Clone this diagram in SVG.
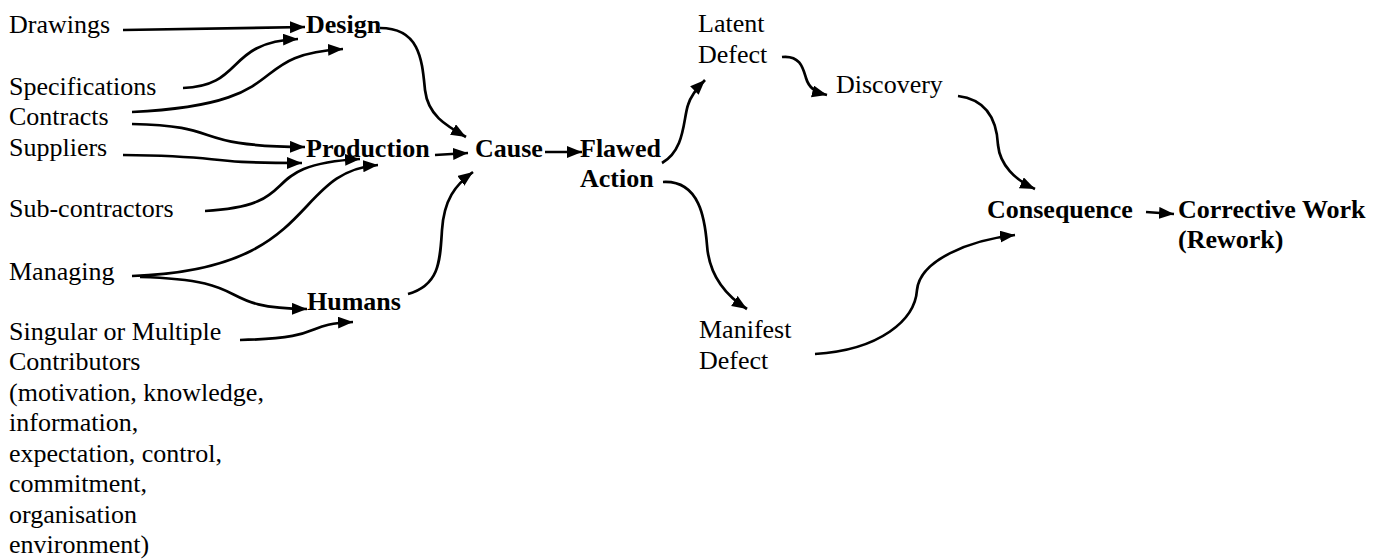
<svg xmlns="http://www.w3.org/2000/svg" width="1385" height="559" viewBox="0 0 1385 559" font-family="Liberation Serif" font-size="26">
<style>
text{font-family:'Liberation Serif',serif;font-size:26px;fill:#000}
.b{font-weight:bold}
.c{fill:none;stroke:#000;stroke-width:2.7;marker-end:url(#ah)}
</style>
<defs>
<marker id="ah" markerUnits="userSpaceOnUse" markerWidth="17" markerHeight="13" refX="15" refY="6" orient="auto">
<path d="M0,0 L15,6 L0,12 z" fill="#000"/>
</marker>
</defs>
<rect width="1385" height="559" fill="#fff"/>
<g id="connectors">
<path class="c" d="M123,30 L305,27"/>
<path class="c" d="M183,88 C245,86 225,42 298,39"/>
<path class="c" d="M132,112 C300,104 240,55 343,49"/>
<path class="c" d="M132,124 C230,126 185,146 305,147"/>
<path class="c" d="M123,155 C235,156 190,163 302,163"/>
<path class="c" d="M205,211 C310,205 250,165 360,159"/>
<path class="c" d="M132,276 C320,270 290,172 378,165"/>
<path class="c" d="M140,277 C260,280 210,308 307,309"/>
<path class="c" d="M240,340 C330,338 300,324 353,322"/>
<path class="c" d="M380,28 C420,28 422,60 425,90 C428,115 445,125 466,137"/>
<path class="c" d="M435,155 L468,153"/>
<path class="c" d="M408,294 C440,285 440,260 442,230 C444,200 455,185 473,172"/>
<path class="c" d="M545,152 L582,152"/>
<path class="c" d="M662,163 C685,150 683,120 688,105 C691,95 697,88 705,80"/>
<path class="c" d="M782,57 C800,55 803,68 806,78 C809,88 815,92 827,95"/>
<path class="c" d="M663,182 C700,180 705,220 707,245 C709,275 725,295 747,309"/>
<path class="c" d="M958,96 C990,100 997,125 998,145 C1000,165 1015,180 1035,189"/>
<path class="c" d="M815,354 C880,350 915,320 917,290 C920,260 970,240 1015,235"/>
<path class="c" d="M1146,212 L1174,214"/>
</g>
<g id="n-drawings"><text x="9" y="33">Drawings</text></g>
<g id="n-specifications"><text x="9" y="95">Specifications</text></g>
<g id="n-contracts"><text x="9" y="125">Contracts</text></g>
<g id="n-suppliers"><text x="9" y="156">Suppliers</text></g>
<g id="n-subcontractors"><text x="9" y="217">Sub-contractors</text></g>
<g id="n-managing"><text x="9" y="280">Managing</text></g>
<g id="n-contributors"><text x="9" y="340">Singular or Multiple</text><text x="9" y="370">Contributors</text><text x="9" y="401">(motivation, knowledge,</text><text x="9" y="431">information,</text><text x="9" y="462">expectation, control,</text><text x="9" y="492">commitment,</text><text x="9" y="523">organisation</text><text x="9" y="553">environment)</text></g>
<g id="n-design"><text class="b" x="306" y="33">Design</text></g>
<g id="n-production"><text class="b" x="306" y="157">Production</text></g>
<g id="n-humans"><text class="b" x="307" y="310">Humans</text></g>
<g id="n-cause"><text class="b" x="475" y="157">Cause</text></g>
<g id="n-flawed"><text class="b" x="580" y="157">Flawed</text><text class="b" x="580" y="187">Action</text></g>
<g id="n-latent"><text x="698" y="32">Latent</text><text x="698" y="63">Defect</text></g>
<g id="n-discovery"><text x="836" y="93">Discovery</text></g>
<g id="n-manifest"><text x="699" y="338">Manifest</text><text x="699" y="369">Defect</text></g>
<g id="n-consequence"><text class="b" x="987" y="218">Consequence</text></g>
<g id="n-corrective"><text class="b" x="1178" y="218">Corrective Work</text><text class="b" x="1178" y="248">(Rework)</text></g>
</svg>
